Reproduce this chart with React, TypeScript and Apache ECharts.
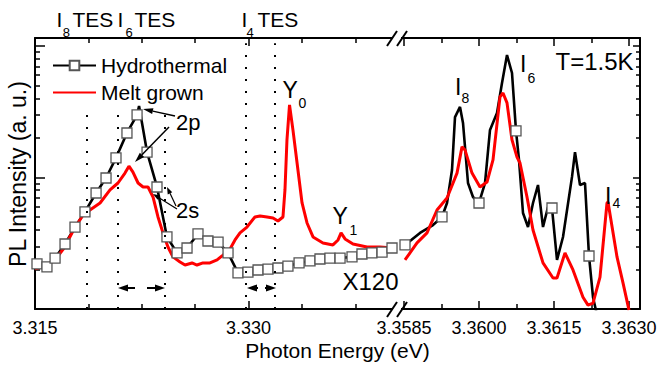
import React, { useEffect, useRef } from "react";
import * as echarts from "echarts";

const FONT = "'Liberation Sans', Arial, Helvetica, sans-serif";

// ---------- data ----------
// Hydrothermal, ×120 region: [photon energy (eV), PL intensity (a.u.), square marker 1/0]
const hydroLeft: [number, number, number][] = [
  [3.31514, 2.2, 1], [3.31584, 2.09, 1], [3.31641, 2.44, 1], [3.31711, 3.12, 1],
  [3.31781, 4.2, 1], [3.31851, 5.47, 1], [3.31929, 7.62, 1], [3.31999, 9.91, 1],
  [3.32069, 14.1, 1], [3.32146, 21.8, 1], [3.32217, 29.9, 1], [3.32231, 35.0, 0],
  [3.32287, 15.6, 1], [3.32357, 8.47, 1], [3.32427, 3.53, 1], [3.32498, 2.67, 1],
  [3.32568, 2.91, 1], [3.32645, 3.72, 1], [3.32715, 3.29, 1], [3.32786, 3.23, 1],
  [3.32856, 2.67, 1], [3.32926, 1.88, 1], [3.32996, 1.91, 1], [3.33067, 1.98, 1],
  [3.33137, 2.01, 1], [3.33207, 2.05, 1], [3.33277, 2.12, 1], [3.33355, 2.24, 1],
  [3.33432, 2.32, 1], [3.33502, 2.4, 1], [3.33572, 2.44, 1], [3.33643, 2.44, 1],
  [3.33727, 2.49, 1], [3.33797, 2.62, 1], [3.33867, 2.67, 1], [3.33938, 2.71, 1],
  [3.34008, 2.91, 1],
];
// Melt grown, ×120 region
const meltLeft: [number, number][] = [
  [3.315, 2.02], [3.31556, 2.09], [3.31605, 2.24], [3.31641, 2.36], [3.31704, 2.91],
  [3.31767, 3.92], [3.31837, 5.19], [3.31886, 5.66], [3.31957, 6.4], [3.32027, 8.04],
  [3.32083, 9.08], [3.32132, 10.8], [3.3216, 12.2], [3.32188, 11.0], [3.32224, 9.08],
  [3.32259, 8.47], [3.32294, 8.47], [3.32329, 7.11], [3.32364, 5.01], [3.32399, 3.79],
  [3.32434, 2.96], [3.32469, 2.49], [3.32519, 2.28], [3.32554, 2.16], [3.32603, 2.24],
  [3.32638, 2.16], [3.3268, 2.24], [3.32729, 2.24], [3.32779, 2.36], [3.32821, 2.57],
  [3.3287, 2.86], [3.32905, 3.35], [3.3294, 3.79], [3.32989, 4.2], [3.33045, 5.01],
  [3.33081, 5.1], [3.3313, 5.01], [3.33172, 4.92], [3.33207, 4.67], [3.33242, 5.01],
  [3.33256, 8.04], [3.3327, 19.3], [3.33288, 35.6], [3.33312, 23.0], [3.33341, 12.9],
  [3.33376, 6.4], [3.33411, 4.51], [3.33453, 3.53], [3.33523, 3.18], [3.33593, 3.07],
  [3.33629, 3.35], [3.3365, 3.79], [3.33678, 3.41], [3.33734, 3.12], [3.33832, 2.96],
  [3.33924, 2.96], [3.34015, 2.91],
];
// Hydrothermal, bound-exciton region
const hydroRight: [number, number, number][] = [
  [3.35852, 3.07, 1], [3.35882, 3.79, 0], [3.35908, 4.35, 0], [3.35926, 5.01, 1],
  [3.35936, 6.4, 0], [3.35946, 11.4, 0], [3.35952, 28.8, 0], [3.35962, 34.4, 0],
  [3.35968, 26.0, 0], [3.35978, 9.08, 0], [3.35988, 7.11, 0], [3.36, 6.4, 1],
  [3.36012, 9.08, 0], [3.36022, 23.0, 0], [3.36036, 30.9, 0], [3.36046, 52.3, 0],
  [3.36056, 85.4, 0], [3.36066, 62.3, 0], [3.36074, 22.6, 1], [3.3608, 13.6, 0],
  [3.36088, 5.37, 0], [3.36098, 4.2, 0], [3.36108, 6.4, 0], [3.36118, 8.77, 0],
  [3.36128, 4.2, 0], [3.36138, 5.97, 0], [3.36146, 5.86, 1], [3.36156, 2.36, 0],
  [3.36168, 3.53, 0], [3.36186, 10.1, 0], [3.36192, 15.6, 0], [3.36202, 8.77, 0],
  [3.36212, 9.08, 0], [3.3622, 2.53, 1], [3.36228, 1.23, 0], [3.36236, 0.9, 0],
];
// Melt grown, bound-exciton region
const meltRight: [number, number][] = [
  [3.35852, 2.36], [3.35876, 3.18], [3.35896, 3.79], [3.35916, 5.66], [3.35936, 6.99],
  [3.35956, 10.8], [3.35966, 17.1], [3.35972, 16.2], [3.35986, 10.8], [3.36002, 8.47],
  [3.36016, 9.24], [3.36028, 13.6], [3.36042, 41.0], [3.36048, 43.9], [3.36056, 36.9],
  [3.36066, 19.3], [3.36076, 14.3], [3.36082, 12.9], [3.36096, 7.11], [3.36108, 3.99],
  [3.36128, 2.24], [3.36148, 1.72], [3.36156, 1.72], [3.36172, 2.67], [3.36188, 1.98],
  [3.36208, 1.23], [3.36218, 1.07], [3.36228, 1.11], [3.36242, 1.75], [3.36256, 6.4],
  [3.36258, 6.51], [3.36276, 2.49], [3.36288, 1.58], [3.363, 0.98],
];
// TES dotted guide lines: [energy, top of line (a.u.)]
const tesLines: [number, number][] = [
  [3.31865, 34.4], [3.32083, 34.4], [3.32413, 30.0], [3.32982, 105], [3.33186, 105],
];

// axes
const Y_MIN = 1;
const Y_MAX = 115;
const yMajor = [1, 10, 100];
const yMinor = [2, 3, 4, 5, 6, 7, 8, 9, 20, 30, 40, 50, 60, 70, 80, 90];
const xLeftRange = [3.315, 3.3405];
const xRightRange = [3.35838, 3.36322];
const xLeftMajor = [3.315, 3.33];
const xLeftMinor = [3.31875, 3.3225, 3.32625, 3.33375, 3.3375];
const xRightMajor = [3.3585, 3.36, 3.3615, 3.363];
const xRightMinor = [3.35925, 3.36075, 3.36225];

// ---------- helpers ----------
const lineStyleAxis = { color: "#000", width: 2 };

function xAxis(grid: number, range: number[], ticks: number[], len: number, pos: string, showLine: boolean, labelDec?: number) {
  return {
    type: "value",
    gridIndex: grid,
    position: pos,
    min: range[0],
    max: range[1],
    axisLine: { show: showLine, onZero: false, lineStyle: lineStyleAxis },
    axisTick: { show: true, inside: true, length: len, customValues: ticks, lineStyle: { color: "#000", width: 1.5 } },
    axisLabel:
      labelDec !== undefined
        ? {
            show: true,
            customValues: ticks,
            formatter: (v: number) => v.toFixed(labelDec),
            fontSize: 18,
            fontFamily: FONT,
            color: "#000",
            margin: 10,
          }
        : { show: false },
    splitLine: { show: false },
  };
}

function yAxis(grid: number, pos: string, ticks: number[], len: number, showLine: boolean) {
  return {
    type: "log",
    logBase: 10,
    gridIndex: grid,
    position: pos,
    min: Y_MIN,
    max: Y_MAX,
    axisLine: { show: showLine, onZero: false, lineStyle: lineStyleAxis },
    axisTick: { show: true, inside: true, length: len, customValues: ticks, lineStyle: { color: "#000", width: 1.5 } },
    axisLabel: { show: false },
    splitLine: { show: false },
  };
}

function txt(text: string, x: number, y: number, fs: number, extra: any = {}) {
  return {
    type: "text",
    x,
    y,
    z: 50,
    rotation: extra.rotation || 0,
    style: {
      text,
      fontSize: fs,
      fontFamily: FONT,
      fill: "#000",
      align: extra.align || "left",
      verticalAlign: "middle",
    },
  };
}

function arrow(x1: number, y1: number, x2: number, y2: number, lw: number, hl: number, hw: number) {
  const dx = x2 - x1;
  const dy = y2 - y1;
  const L = Math.hypot(dx, dy);
  const ux = dx / L;
  const uy = dy / L;
  const bx = x2 - ux * hl;
  const by = y2 - uy * hl;
  const px = -uy;
  const py = ux;
  return [
    { type: "line", z: 50, shape: { x1, y1, x2: bx, y2: by }, style: { stroke: "#000", lineWidth: lw } },
    {
      type: "polygon",
      z: 50,
      shape: { points: [[x2, y2], [bx + px * hw, by + py * hw], [bx - px * hw, by - py * hw]] },
      style: { fill: "#000" },
    },
  ];
}

function breakMark(y: number) {
  return [
    { type: "rect", z: 60, shape: { x: 393, y: y - 3, width: 8, height: 6 }, style: { fill: "#fff" } },
    { type: "line", z: 61, shape: { x1: 387, y1: y + 8, x2: 397, y2: y - 7 }, style: { stroke: "#000", lineWidth: 2 } },
    { type: "line", z: 61, shape: { x1: 397, y1: y + 8, x2: 407, y2: y - 7 }, style: { stroke: "#000", lineWidth: 2 } },
  ];
}

const hydroStyle = {
  type: "line",
  name: "Hydrothermal",
  symbol: "rect",
  symbolSize: 10,
  lineStyle: { color: "#000", width: 2.6 },
  itemStyle: { color: "#fff", borderColor: "#555", borderWidth: 1.3 },
  emphasis: { disabled: true },
  silent: true,
};
const meltStyle = {
  type: "line",
  name: "Melt grown",
  symbol: "none",
  lineStyle: { color: "#ff0000", width: 3 },
  itemStyle: { color: "#ff0000" },
  emphasis: { disabled: true },
  silent: true,
};

const hydroData = (arr: [number, number, number][]) =>
  arr.map((d) => ({ value: [d[0], d[1]], symbol: d[2] ? "rect" : "none" }));

export default function App() {
  const ref = useRef<HTMLDivElement>(null);
  useEffect(() => {
    document.body.style.margin = "0";
    if (!ref.current) return;
    const chart = echarts.init(ref.current, undefined, { renderer: "svg" });
    const option: any = {
      animation: false,
      backgroundColor: "#fff",
      textStyle: { fontFamily: FONT },
      grid: [
        { left: 35, top: 38, width: 363, height: 271, outerBoundsMode: "none", containLabel: false },
        { left: 398, top: 38, width: 242, height: 271, outerBoundsMode: "none", containLabel: false },
      ],
      xAxis: [
        xAxis(0, xLeftRange, xLeftMajor, 8, "bottom", true, 3),
        xAxis(0, xLeftRange, xLeftMinor, 5, "bottom", false),
        xAxis(0, xLeftRange, xLeftMajor, 8, "top", true),
        xAxis(0, xLeftRange, xLeftMinor, 5, "top", false),
        xAxis(1, xRightRange, xRightMajor, 8, "bottom", true, 4),
        xAxis(1, xRightRange, xRightMinor, 5, "bottom", false),
        xAxis(1, xRightRange, xRightMajor, 8, "top", true),
        xAxis(1, xRightRange, xRightMinor, 5, "top", false),
      ],
      yAxis: [
        yAxis(0, "left", yMajor, 10, true),
        yAxis(0, "left", yMinor, 5, false),
        yAxis(1, "right", yMajor, 7, true),
        yAxis(1, "right", yMinor, 4, false),
      ],
      legend: {
        orient: "vertical",
        left: 47,
        top: 50,
        itemWidth: 43,
        itemHeight: 12,
        itemGap: 6,
        selectedMode: false,
        textStyle: { fontSize: 21, fontFamily: FONT, color: "#000", lineHeight: 21 },
        data: [{ name: "Hydrothermal" }, { name: "Melt grown", itemStyle: { opacity: 0 } }],
      },
      series: [
        { ...hydroStyle, xAxisIndex: 0, yAxisIndex: 0, data: hydroData(hydroLeft) },
        {
          ...meltStyle,
          xAxisIndex: 0,
          yAxisIndex: 0,
          data: meltLeft,
          markLine: {
            silent: true,
            symbol: ["none", "none"],
            label: { show: false },
            lineStyle: { color: "#000", width: 2, type: [2, 10] },
            data: tesLines.map(([e, top]) => [{ coord: [e, Y_MIN] }, { coord: [e, top] }]),
          },
        },
        { ...hydroStyle, xAxisIndex: 4, yAxisIndex: 2, data: hydroData(hydroRight) },
        { ...meltStyle, xAxisIndex: 4, yAxisIndex: 2, data: meltRight },
      ],
      graphic: {
        elements: [
          txt("I", 56.5, 19.5, 21), txt("8", 62.8, 32.5, 13), txt("TES", 72.5, 19.5, 21),
          txt("I", 117.5, 19.5, 21), txt("6", 125.5, 32.5, 13), txt("TES", 134.5, 19.5, 21),
          txt("I", 241.5, 19.5, 21), txt("4", 246.5, 32.5, 13), txt("TES", 257.5, 19.5, 21),
          txt("T=1.5K", 555.5, 61, 24),
          txt("Y", 282.5, 90, 23), txt("0", 298.5, 103, 14),
          txt("Y", 332.5, 216, 23), txt("1", 349.5, 230, 14),
          txt("I", 455, 86.5, 23), txt("8", 461.5, 98, 14),
          txt("I", 520, 64, 23), txt("6", 527.5, 77.5, 14),
          txt("I", 605, 196, 23), txt("4", 612.5, 203, 14),
          txt("2p", 176, 122, 22),
          txt("2s", 176, 210.5, 22),
          txt("X120", 342.5, 281.5, 24),
          txt("Photon Energy (eV)", 337.5, 350.5, 21, { align: "center" }),
          txt("PL Intensity (a. u.)", 18, 174, 23, { align: "center", rotation: Math.PI / 2 }),
          ...arrow(135, 288, 118, 288, 2, 10, 3.5),
          ...arrow(147, 288, 165, 288, 2, 10, 3.5),
          ...arrow(258, 288, 247, 288, 2, 10, 3.5),
          ...arrow(265, 288, 276, 288, 2, 10, 3.5),
          ...arrow(175, 116, 143, 109, 1.5, 10, 3),
          ...arrow(169, 127, 135, 162, 1.5, 10, 3),
          ...arrow(176, 206, 167, 187, 1.2, 7, 2.5),
          ...arrow(177, 209, 153, 194, 1.2, 7, 2.5),
          ...breakMark(38),
          ...breakMark(309),
        ],
      },
    };
    chart.setOption(option);
    return () => chart.dispose();
  }, []);
  return <div ref={ref} style={{ width: 659, height: 366 }} />;
}
